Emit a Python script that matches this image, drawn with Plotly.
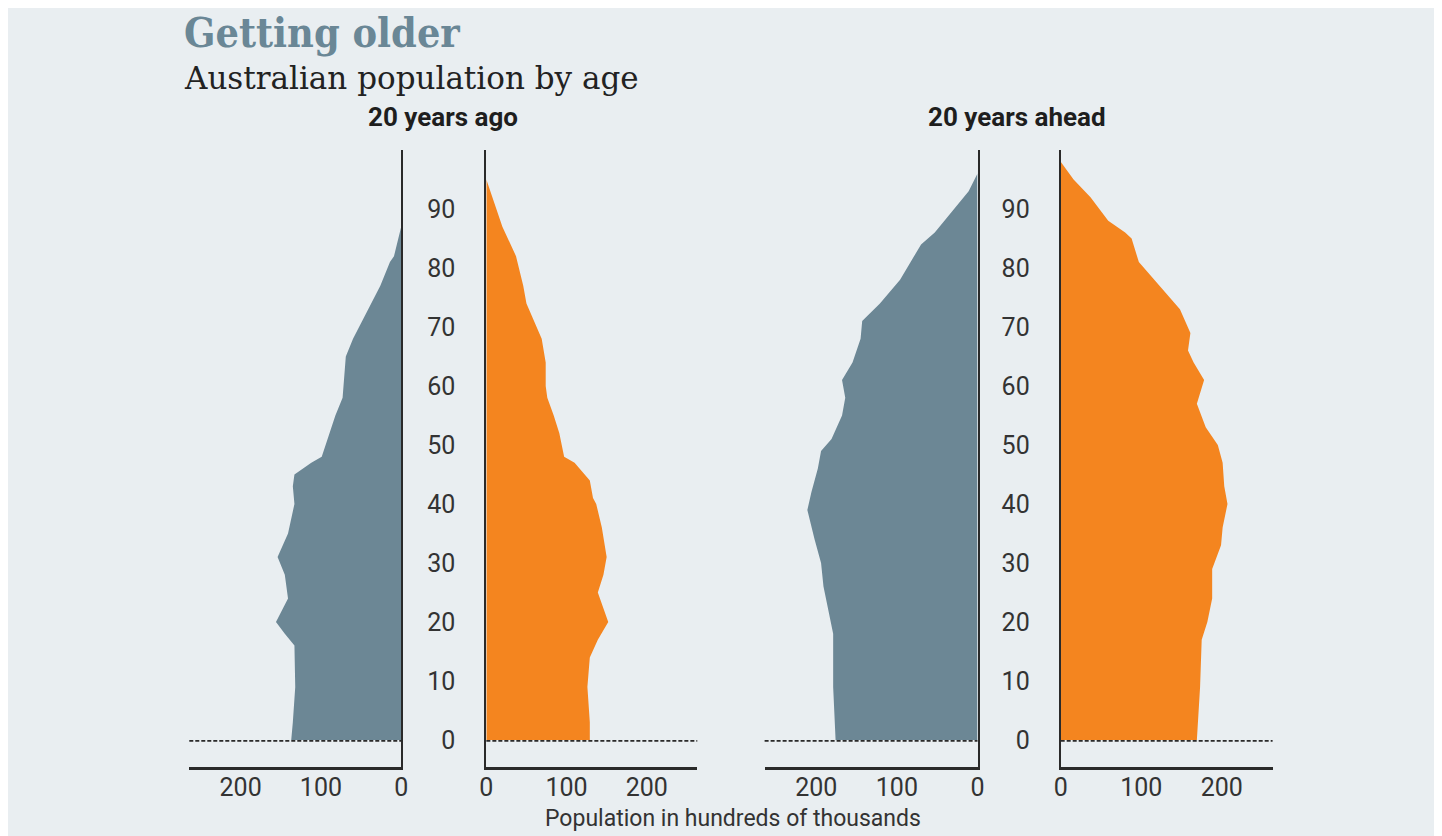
import plotly.graph_objects as go

# page has an 8px body margin: figure sits at (8, 8) in the 1442x836 window
OFF = 8
W, H = 1442 - OFF, 836 - OFF

# ---- data (population in hundreds of thousands) ----
past_male_age = [0, 3, 9, 16, 18, 20, 24, 28, 31, 35, 40, 43, 45, 47, 48, 50, 55, 58, 62, 65, 68, 74, 77, 81, 82, 87]
past_male_pop = [137, 135, 132, 133, 145, 156, 141, 145, 154, 141, 133, 135, 133, 112, 99, 94, 82, 73, 71, 69, 60, 37, 26, 14, 9, 0]

past_female_age = [0, 3, 9, 14, 17, 20, 25, 28, 31, 36, 40, 41, 44, 47, 48, 52, 55, 58, 60, 64, 68, 72, 74, 77, 82, 87, 92, 95]
past_female_pop = [129, 129, 126, 129, 139, 152, 139, 146, 150, 144, 137, 133, 129, 110, 97, 91, 84, 76, 74, 74, 69, 57, 50, 46, 37, 20, 8, 0]

future_male_age = [0, 9, 18, 22, 26, 30, 34, 39, 42, 46, 49, 51, 55, 58, 61, 64, 68, 71, 74, 78, 84, 86, 88, 90, 93, 96]
future_male_pop = [176, 179, 179, 185, 191, 194, 202, 211, 206, 198, 194, 181, 168, 164, 168, 155, 145, 143, 121, 96, 70, 53, 41, 28, 11, 0]

future_female_age = [0, 9, 17, 20, 24, 29, 33, 36, 40, 43, 47, 50, 53, 57, 61, 64, 66, 69, 73, 77, 81, 85, 86, 88, 92, 95, 98]
future_female_pop = [169, 173, 175, 182, 188, 188, 199, 201, 207, 203, 201, 195, 180, 169, 178, 165, 158, 161, 148, 122, 97, 88, 80, 59, 37, 16, 0]

x_ticks = [0, 100, 200]
age_ticks = [0, 10, 20, 30, 40, 50, 60, 70, 80, 90]
panel_titles = ["20 years ago", "20 years ahead"]
title = "Getting older"
subtitle = "Australian population by age"
x_title = "Population in hundreds of thousands"

GREY = "#6c8795"
ORANGE = "#f4851f"
BG = "#e9eef1"
DARK = "#2a2a2a"
TXT = "#333333"


def px(v):
    return (v - OFF) / W


def py(v):
    return 1 - (v - OFF) / H


fig = go.Figure()

series = [
    (past_male_pop, past_male_age, GREY, "x", "y"),
    (past_female_pop, past_female_age, ORANGE, "x2", "y2"),
    (future_male_pop, future_male_age, GREY, "x3", "y3"),
    (future_female_pop, future_female_age, ORANGE, "x4", "y4"),
]
for xs, ys, col, xa, ya in series:
    fig.add_trace(go.Scatter(x=xs, y=ys, mode="lines", line=dict(width=0, color=col),
                             fill="tozerox", fillcolor=col, xaxis=xa, yaxis=ya,
                             hoverinfo="skip", showlegend=False))

xdomains = [(184, 398), (484, 697), (765, 980), (1064, 1278)]
reversed_ = [True, False, True, False]
ydom = [py(767), py(150)]
yrange = [-4.58, 100]
tickfont = dict(family="Roboto, sans-serif", size=25, color=TXT)

layout = dict(
    width=W, height=H, margin=dict(l=0, r=0, t=0, b=0),
    paper_bgcolor=BG, plot_bgcolor="rgba(0,0,0,0)", showlegend=False,
)
for i in range(4):
    n = "" if i == 0 else str(i + 1)
    d0, d1 = xdomains[i]
    xr = [264, 0] if reversed_[i] else [0, 263]
    layout["xaxis" + n] = dict(
        domain=[px(d0), px(d1)], range=xr, anchor="y" + n,
        tickvals=x_ticks, ticktext=[str(t) for t in x_ticks], ticks="",
        showline=True, linecolor=DARK, linewidth=2.5, showgrid=False, zeroline=False,
        tickfont=tickfont, ticklabelstandoff=-4, fixedrange=True,
    )
    ydict = dict(
        domain=ydom, range=yrange, anchor="x" + n,
        side="right" if reversed_[i] else "left",
        showline=True, linecolor=DARK, linewidth=2, showgrid=False, zeroline=False,
        ticks="", fixedrange=True,
    )
    if reversed_[i]:
        ydict["showticklabels"] = False
    else:
        ydict.update(showticklabels=True, tickvals=age_ticks,
                     ticktext=[str(a) for a in age_ticks], tickfont=tickfont,
                     ticklabelstandoff=24)
    layout["yaxis" + n] = ydict

fig.update_layout(**layout)

shapes = []
for i in range(4):
    n = "" if i == 0 else str(i + 1)
    shapes.append(dict(type="line", xref=("x" + n + " domain"), yref=("y" + n),
                       x0=0, x1=1, y0=-0.15, y1=-0.15,
                       line=dict(color=DARK, width=1.6, dash="4px,2px"), layer="above"))
fig.update_layout(shapes=shapes)

ann = [
    dict(text="<b>" + title + "</b>", x=px(178), y=py(33), xanchor="left", yanchor="middle",
         borderpad=0,
         font=dict(family="DejaVu Serif Condensed, DejaVu Serif, serif", size=41, color="#6a8796")),
    dict(text=subtitle, x=px(177), y=py(78), xanchor="left", yanchor="middle",
         font=dict(family="DejaVu Serif, serif", size=31, color="#222222")),
    dict(text="<b>" + panel_titles[0] + "</b>", x=px(440), y=py(117), xanchor="center", yanchor="middle",
         font=dict(family="Roboto, sans-serif", size=26, color="#1e1e1e")),
    dict(text="<b>" + panel_titles[1] + "</b>", x=px(1020), y=py(117), xanchor="center", yanchor="middle",
         font=dict(family="Roboto, sans-serif", size=26, color="#1e1e1e")),
    dict(text=x_title, x=px(733), y=py(818), xanchor="center", yanchor="middle",
         font=dict(family="Roboto, sans-serif", size=23, color=TXT)),
]
for a in ann:
    a.update(xref="paper", yref="paper", showarrow=False)
fig.update_layout(annotations=ann)

fig.write_html("out.html")
